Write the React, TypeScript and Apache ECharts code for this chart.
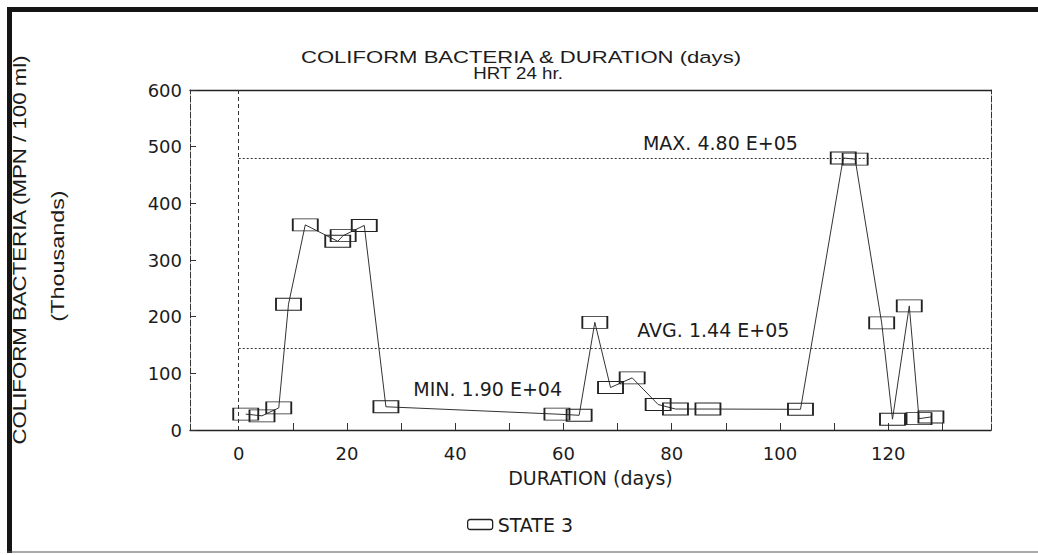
import React, { useEffect, useRef } from "react";
import * as echarts from "echarts";

// Duration (days) of each sample
const days = [
  1.3, 4.3, 7.4, 9.2, 12.3, 18.3, 19.3, 23.2, 27.2, 58.8, 62.9, 65.8, 68.7,
  72.7, 77.5, 80.7, 86.7, 103.8, 111.7, 113.9, 118.8, 120.8, 123.9, 125.7, 127.9,
];
// Coliform bacteria, MPN / 100 ml (thousands)
const coliform = [
  28, 25, 39, 222, 362, 333, 343, 361, 41, 28, 26, 190, 75, 92, 45, 37, 37,
  36.5, 480, 478, 189, 19, 219, 20, 23,
];
const seriesName = "STATE 3";
const maxValue = 480;
const avgValue = 144;
const minValue = 19;
const maxLabel = "MAX. 4.80 E+05";
const avgLabel = "AVG. 1.44 E+05";
const minLabel = "MIN. 1.90 E+04";
const xLabelValues = [0, 20, 40, 60, 80, 100, 120];
const xTickValues = [10, 20, 30, 40, 50, 60, 70, 80, 90, 100, 110, 120, 130];
const xMin = -9;
const xMax = 139;
const yMin = 0;
const yMax = 600;
const yInterval = 100;

const titleText = "COLIFORM BACTERIA & DURATION (days)";
const subTitleText = "HRT 24 hr.";
const yNameText = "COLIFORM BACTERIA (MPN / 100 ml)";
const yUnitText = "(Thousands)";
const xNameText = "DURATION (days)";

const INK = "#1c1c1c";
const FONT = "DejaVu Sans";

export default function App() {
  const ref = useRef<HTMLDivElement>(null);

  useEffect(() => {
    if (!ref.current) return;
    const chart = echarts.init(ref.current, null, { renderer: "svg" });
    const data = days.map((d, i) => [d, coliform[i]]);

    const option: any = {
      animation: false,
      backgroundColor: "#ffffff",
      textStyle: { fontFamily: FONT, color: INK },
      grid: { left: 190, right: 47, top: 90, bottom: 125, containLabel: false },
      legend: {
        data: [seriesName],
        left: 462,
        top: 510,
        icon: "roundRect",
        itemWidth: 25,
        itemHeight: 10,
        itemStyle: { color: "rgba(0,0,0,0)", borderColor: "#222", borderWidth: 1.3 },
        textStyle: { fontFamily: FONT, fontSize: 19, color: INK },
      },
      graphic: [
        { type: "rect", shape: { x: 7, y: 7, width: 1031, height: 5 }, style: { fill: "#151515" }, silent: true },
        { type: "rect", shape: { x: 7, y: 7, width: 5, height: 546 }, style: { fill: "#151515" }, silent: true },
        { type: "line", shape: { x1: 7, y1: 552, x2: 1038, y2: 552 }, style: { stroke: "#555", lineWidth: 1 }, silent: true },
        {
          type: "text", x: 521, y: 57, scaleX: 1.3,
          style: { text: titleText, fontFamily: "Liberation Sans", fontSize: 17, fill: INK, align: "center", verticalAlign: "middle" },
        },
        {
          type: "text", x: 518, y: 73, scaleX: 1.1,
          style: { text: subTitleText, fontFamily: "Liberation Sans", fontSize: 17, fill: INK, align: "center", verticalAlign: "middle" },
        },
        {
          type: "text", x: 20, y: 250, rotation: Math.PI / 2, scaleX: 1.236,
          style: { text: yNameText, fontFamily: "Liberation Sans", fontSize: 18, fill: INK, align: "center", verticalAlign: "middle" },
        },
        {
          type: "text", x: 58, y: 256, rotation: Math.PI / 2, scaleX: 1.3,
          style: { text: yUnitText, fontFamily: "Liberation Sans", fontSize: 18, fill: INK, align: "center", verticalAlign: "middle" },
        },
      ],
      xAxis: [
        {
          type: "value",
          min: xMin,
          max: xMax,
          position: "bottom",
          name: xNameText,
          nameLocation: "middle",
          nameGap: 38,
          nameTextStyle: { fontFamily: FONT, fontSize: 19, color: INK },
          axisLine: { show: true, onZero: false, lineStyle: { color: "#222", width: 1.3 } },
          axisTick: { show: true, inside: true, length: 7, customValues: xTickValues, lineStyle: { color: "#333" } },
          axisLabel: { customValues: xLabelValues, fontFamily: FONT, fontSize: 18, color: INK, margin: 14 },
          splitLine: { show: false },
        },
        {
          type: "value",
          min: xMin,
          max: xMax,
          position: "top",
          axisLine: { show: true, onZero: false, lineStyle: { color: "#222", width: 1.3 } },
          axisTick: { show: false },
          axisLabel: { show: false },
          splitLine: { show: false },
        },
      ],
      yAxis: [
        {
          type: "value",
          min: yMin,
          max: yMax,
          interval: yInterval,
          position: "left",
          axisLine: { show: true, onZero: false, lineStyle: { color: "#333", width: 1, type: [6, 2] } },
          axisTick: { show: true, inside: true, length: 6, lineStyle: { color: "#333" } },
          axisLabel: { fontFamily: FONT, fontSize: 18, color: INK, margin: 8 },
          splitLine: { show: false },
        },
        {
          type: "value",
          min: yMin,
          max: yMax,
          position: "right",
          axisLine: { show: true, onZero: false, lineStyle: { color: "#333", width: 1, type: [6, 2] } },
          axisTick: { show: false },
          axisLabel: { show: false },
          splitLine: { show: false },
        },
      ],
      series: [
        {
          name: seriesName,
          type: "line",
          xAxisIndex: 0,
          yAxisIndex: 0,
          data,
          symbol: "rect",
          symbolSize: [25, 12],
          showAllSymbol: true,
          itemStyle: { color: "rgba(255,255,255,0)", borderColor: "#222", borderWidth: 1.3 },
          lineStyle: { color: "#333", width: 1 },
          markLine: {
            silent: true,
            symbol: ["none", "none"],
            label: { show: false },
            lineStyle: { color: "#333", width: 1.2, type: [2, 2] },
            data: [
              { xAxis: 0, lineStyle: { color: "#333", width: 1, type: [4, 3] } },
              [{ coord: [0, maxValue] }, { coord: [xMax, maxValue] }],
              [{ coord: [0, avgValue] }, { coord: [xMax, avgValue] }],
            ],
          },
          markPoint: {
            silent: true,
            symbol: "rect",
            symbolSize: 1,
            itemStyle: { color: "rgba(0,0,0,0)" },
            label: { show: true, position: "top", fontFamily: FONT, fontSize: 19, color: INK },
            data: [
              { coord: [89, maxValue], label: { formatter: maxLabel, distance: 5 } },
              { coord: [87.7, avgValue], label: { formatter: avgLabel, distance: 8 } },
              { coord: [46, minValue], label: { formatter: minLabel, distance: 20 } },
            ],
          },
        },
      ],
    };

    chart.setOption(option);
    return () => chart.dispose();
  }, []);

  return (
    <div
      ref={ref}
      style={{ position: "absolute", left: 0, top: 0, width: 1038, height: 555, background: "#fff" }}
    />
  );
}
